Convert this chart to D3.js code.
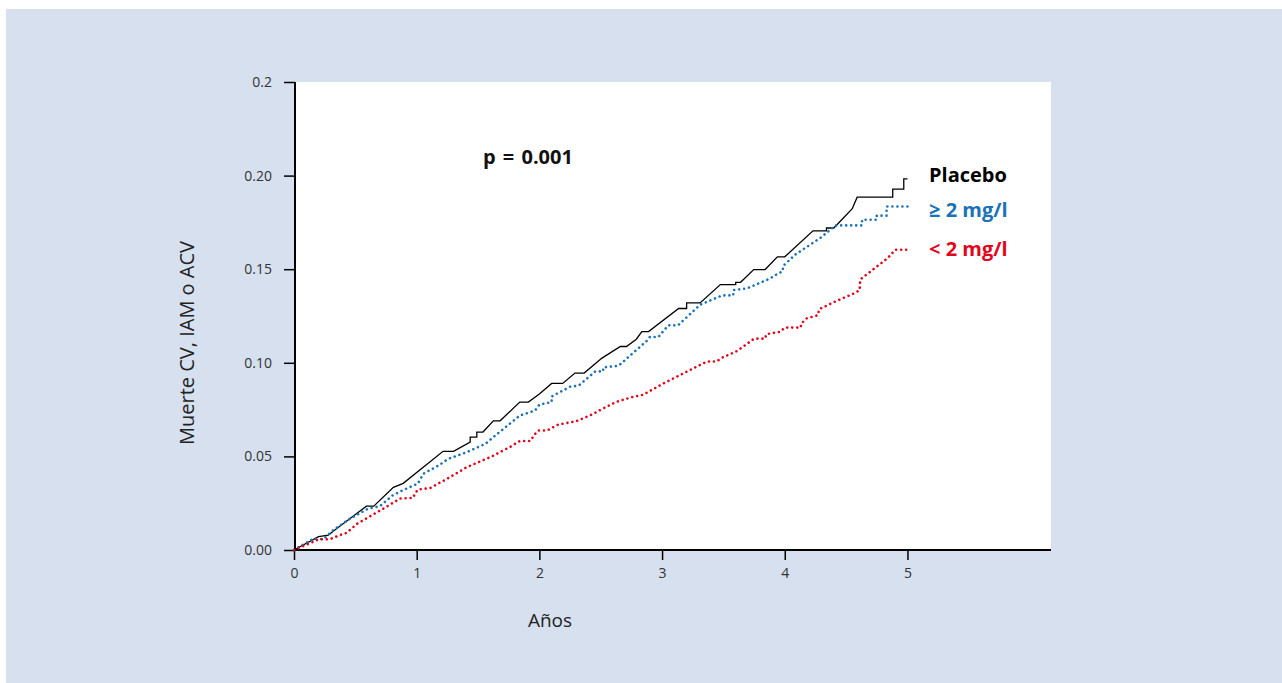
<!DOCTYPE html>
<html>
<head>
<meta charset="utf-8">
<script src="https://cdn.jsdelivr.net/npm/d3@7"></script>
<style>
  body { margin: 0; background: #fff; }
  svg { display: block; font-family: "Open Sans", "Noto Sans", sans-serif; }
</style>
</head>
<body>
<svg id="chart" width="1282" height="683"></svg>
<script>
// datos (años, tasa acumulada)
const placebo = [
  [0, 0], [0.2, 0.0071], [0.28, 0.008], [0.33, 0.0105], [0.59, 0.0234], [0.65, 0.0234],
  [0.81, 0.0335], [0.89, 0.0356], [1.215, 0.0527], [1.30, 0.0527], [1.436, 0.0576],
  [1.436, 0.0603], [1.49, 0.0603], [1.49, 0.063], [1.54, 0.063], [1.625, 0.069],
  [1.68, 0.069], [1.84, 0.079], [1.91, 0.079], [2.0, 0.0833], [2.10, 0.089], [2.19, 0.089],
  [2.29, 0.0945], [2.365, 0.0945], [2.51, 0.1025], [2.66, 0.1087], [2.71, 0.1087],
  [2.79, 0.1126], [2.835, 0.1167], [2.89, 0.1167], [3.135, 0.129], [3.20, 0.129],
  [3.20, 0.132], [3.31, 0.132], [3.475, 0.1418], [3.6, 0.1418], [3.6, 0.143], [3.64, 0.143],
  [3.747, 0.1498], [3.84, 0.1498], [3.94, 0.1566], [4.0, 0.1566], [4.23, 0.1705],
  [4.34, 0.1705], [4.34, 0.172], [4.40, 0.172], [4.55, 0.1823], [4.59, 0.1885],
  [4.88, 0.1885], [4.88, 0.1928], [4.97, 0.1928], [4.97, 0.1983], [5.0, 0.1983]
];
const alto = [
  [0, 0], [0.155, 0.0059], [0.24, 0.0059], [0.32, 0.0106], [0.44, 0.016], [0.60, 0.022],
  [0.70, 0.0234], [0.80, 0.029], [0.89, 0.032], [1.01, 0.0355], [1.055, 0.0408],
  [1.18, 0.0452], [1.26, 0.0488], [1.41, 0.0523], [1.56, 0.0567], [1.625, 0.0603],
  [1.84, 0.0718], [1.965, 0.0745], [2.0, 0.0777], [2.10, 0.079], [2.10, 0.082],
  [2.25, 0.0872], [2.32, 0.0878], [2.455, 0.0954], [2.52, 0.0954], [2.52, 0.0975],
  [2.645, 0.0984], [2.875, 0.1117], [2.90, 0.1138], [2.97, 0.1138], [3.05, 0.120],
  [3.13, 0.120], [3.31, 0.131], [3.49, 0.136], [3.58, 0.136], [3.58, 0.1388],
  [3.69, 0.1397], [3.88, 0.145], [3.94, 0.1475], [3.985, 0.149], [3.985, 0.1516],
  [4.085, 0.1578], [4.29, 0.1667], [4.37, 0.171], [4.41, 0.1734], [4.63, 0.1734],
  [4.63, 0.1764], [4.75, 0.1764], [4.75, 0.1786], [4.83, 0.1786], [4.83, 0.1835],
  [5.01, 0.1835]
];
const bajo = [
  [0, 0], [0.13, 0.0036], [0.20, 0.0057], [0.29, 0.0057], [0.375, 0.008], [0.43, 0.0092],
  [0.51, 0.0138], [0.73, 0.0222], [0.865, 0.0275], [0.97, 0.0278], [0.985, 0.030],
  [1.01, 0.0323], [1.11, 0.0331], [1.245, 0.038], [1.41, 0.0443], [1.60, 0.0496],
  [1.76, 0.055], [1.84, 0.0582], [1.925, 0.0582], [1.965, 0.062], [1.99, 0.0638],
  [2.06, 0.0638], [2.155, 0.067], [2.30, 0.0688], [2.41, 0.0718], [2.62, 0.079],
  [2.75, 0.0816], [2.85, 0.083], [3.01, 0.089], [3.19, 0.0949], [3.365, 0.1007],
  [3.445, 0.1007], [3.49, 0.1028], [3.60, 0.1059], [3.65, 0.1081], [3.75, 0.1129],
  [3.84, 0.1129], [3.85, 0.1153], [3.96, 0.1165], [4.0, 0.1188], [4.13, 0.1188],
  [4.135, 0.121], [4.18, 0.1238], [4.27, 0.1254], [4.28, 0.1286], [4.40, 0.1324],
  [4.575, 0.1374], [4.61, 0.1388], [4.615, 0.1445], [4.66, 0.1468], [4.84, 0.156],
  [4.90, 0.1604], [5.01, 0.1604]
];
const yTicks = [0, 0.05, 0.10, 0.15, 0.20, 0.25];
const yTickLabels = ["0.00", "0.05", "0.10", "0.15", "0.20", "0.2"];
const xTicks = [0, 1, 2, 3, 4, 5];
const series = [
  { name: "Placebo", data: placebo, color: "#000000", dotted: false, ly: 182 },
  { name: "≥ 2 mg/l", data: alto, color: "#1b72b8", dotted: true, ly: 217 },
  { name: "< 2 mg/l", data: bajo, color: "#e2061c", dotted: true, ly: 256 }
];

const svg = d3.select("#chart");

// fondo
svg.append("rect")
    .attr("x", 6).attr("y", 9)
    .attr("width", 1276).attr("height", 674)
    .attr("fill", "#d6e0ef");

const plotL = 295, plotR = 1051, plotT = 82, plotB = 550;

const x = d3.scaleLinear().domain([0, 6.17]).range([294, plotR]);
const y = d3.scaleLinear().domain([0, 0.25]).range([plotB, plotT]);

// área del gráfico
svg.append("rect")
    .attr("x", plotL).attr("y", plotT)
    .attr("width", plotR - plotL).attr("height", plotB - plotT)
    .attr("fill", "#fff");

// ejes
const yAxis = d3.axisLeft(y)
    .tickValues(yTicks)
    .tickFormat((d, i) => yTickLabels[i])
    .tickSize(11)
    .tickPadding(12);

const gy = svg.append("g")
    .attr("transform", `translate(${plotL},0)`)
    .call(yAxis)
    .attr("font-family", null)
    .attr("font-size", null);
gy.select(".domain").remove();
gy.selectAll("line").attr("stroke", "#000").attr("stroke-width", 1.5);
gy.selectAll("text").attr("font-size", 14).attr("fill", "#333");

const xAxis = d3.axisBottom(x)
    .tickValues(xTicks)
    .tickFormat(d3.format("d"))
    .tickSize(10)
    .tickPadding(8);

const gx = svg.append("g")
    .attr("transform", `translate(0,${plotB})`)
    .call(xAxis)
    .attr("font-family", null)
    .attr("font-size", null);
gx.select(".domain").remove();
gx.selectAll("line").attr("stroke", "#000").attr("stroke-width", 1.5);
gx.selectAll("text").attr("font-size", 14).attr("fill", "#333");

// líneas de los ejes
svg.append("line")
    .attr("x1", plotL).attr("x2", plotL)
    .attr("y1", plotT).attr("y2", plotB + 1)
    .attr("stroke", "#000").attr("stroke-width", 2);
svg.append("line")
    .attr("x1", 293).attr("x2", plotR)
    .attr("y1", plotB).attr("y2", plotB)
    .attr("stroke", "#000").attr("stroke-width", 2.2);

// curvas
const line = d3.line()
    .x(d => x(d[0]))
    .y(d => y(d[1]));

svg.selectAll("path.curve")
    .data(series)
    .enter().append("path")
    .attr("class", "curve")
    .attr("d", d => line(d.data))
    .attr("fill", "none")
    .attr("stroke", d => d.color)
    .attr("stroke-width", d => d.dotted ? 2.6 : 1.3)
    .attr("stroke-linecap", d => d.dotted ? "round" : "butt")
    .attr("stroke-dasharray", d => d.dotted ? "0.01 5" : null);

// leyenda
svg.selectAll("text.legend")
    .data(series)
    .enter().append("text")
    .attr("class", "legend")
    .attr("x", 929)
    .attr("y", d => d.ly)
    .attr("font-size", 20)
    .attr("font-weight", "bold")
    .attr("fill", d => d.color)
    .text(d => d.name);

svg.append("text")
    .attr("x", 483).attr("y", 164)
    .attr("font-size", 20)
    .attr("font-weight", "bold")
    .attr("word-spacing", 2)
    .attr("fill", "#111")
    .text("p = 0.001");

// títulos
svg.append("text")
    .attr("transform", "translate(194,343) rotate(-90)")
    .attr("text-anchor", "middle")
    .attr("font-size", 20)
    .attr("fill", "#222")
    .text("Muerte CV, IAM o ACV");

svg.append("text")
    .attr("x", 550).attr("y", 627)
    .attr("text-anchor", "middle")
    .attr("font-size", 19)
    .attr("fill", "#222")
    .text("Años");
</script>
</body>
</html>
